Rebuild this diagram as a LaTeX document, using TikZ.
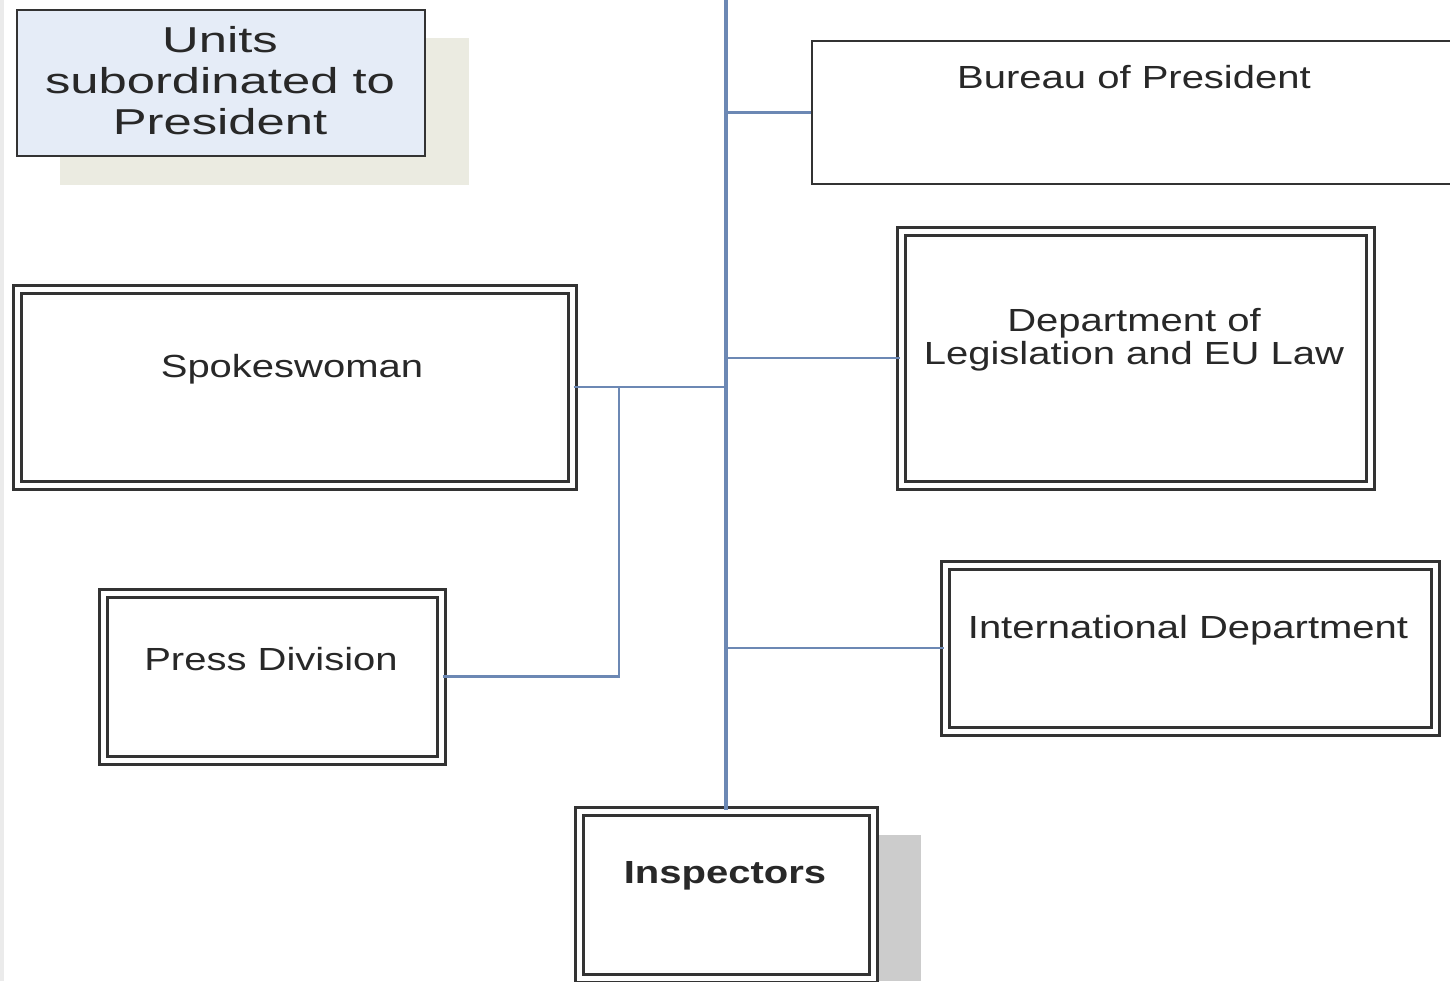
\documentclass[tikz,border=0pt]{standalone}
\usepackage{fontspec}
\setmainfont{Liberation Sans}[FakeStretch=1.25]
\newfontfamily\titlefont{Liberation Sans}[FakeStretch=1.41]
\usetikzlibrary{fit}
\definecolor{conn}{RGB}{108,136,180}
\definecolor{txt}{RGB}{40,40,40}
\definecolor{titlefill}{RGB}{229,236,247}
\definecolor{beige}{RGB}{235,235,225}
\definecolor{shadowgray}{RGB}{204,204,204}
\begin{document}
\begin{tikzpicture}[x=0.5pt,y=-0.5pt,
  dbox/.style={draw=black!80, line width=1.5pt, double=white, double distance=2.5pt, inner sep=0pt},
  sbox/.style={draw=black!80, line width=1.4pt, inner sep=0pt},
  lbl/.style={text=txt, font=\fontsize{16}{16.5}\selectfont, align=center, inner sep=0pt},
  link/.style={draw=conn, line width=1.2pt},
  spinestyle/.style={draw=conn, line width=1.7pt}]
\useasboundingbox (0,0) rectangle (1450,981);
\fill[white] (0,0) rectangle (1450,981);
\fill[black!8] (0,0) rectangle (4,981);
% shadows
\fill[beige] (60,38) rectangle (469,185);
\fill[shadowgray] (878,835) rectangle (921,981);
% title
\node[sbox, fill=titlefill, fit={(17,10) (425,156)}] (title) {};
\node[text=txt, align=center, inner sep=0pt, font=\titlefont\fontsize{18}{20.5}\selectfont] (titlet) at (220,81) {Units\\subordinated to\\President};
% boxes
\node[sbox, fit={(812,41) (1456,184)}] (bureau) {};
\node[dbox, fit={(901,231) (1370,485)}] (dept) {};
\node[dbox, fit={(945,565) (1435,731)}] (intl) {};
\node[dbox, fit={(17,289) (572,485)}] (spokes) {};
\node[dbox, fit={(103.5,593) (441.5,760)}] (press) {};
\node[dbox, fit={(579,811) (873,978)}] (insp) {};
% labels
\node[lbl] (bureaut) at (1134,77) {Bureau of President};
\node[lbl] (deptt) at (1134,340) {Department of\\Legislation and EU Law};
\node[lbl] (intlt) at (1188,630) {International Department};
\node[lbl] (spokest) at (292,369) {Spokeswoman};
\node[lbl] (presst) at (271,659) {Press Division};
\node[lbl, font=\bfseries\fontsize{16}{16.5}\selectfont] (inspt) at (725,876) {Inspectors};
% connectors
\coordinate (top) at (726,0);
\coordinate (junction) at (619,0 |- spokes.east);
\draw[spinestyle] (top) -- (insp.north);
\draw[link] (top |- bureau.west) -- (bureau.west);
\draw[link] (top |- dept.west) -- (dept.west);
\draw[link] (top |- intl.west) -- (intl.west);
\draw[link] (spokes.east) -- (top |- spokes.east);
\draw[link] (press.east) -| (junction);
\end{tikzpicture}
\end{document}
